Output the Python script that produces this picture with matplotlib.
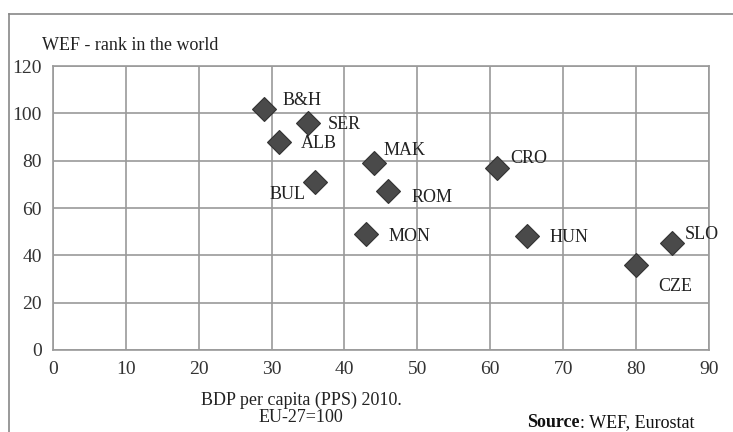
import matplotlib.pyplot as plt
from matplotlib.lines import Line2D

# GDP per capita (PPS, EU-27=100) vs WEF competitiveness rank
countries = ['B&H', 'SER', 'ALB', 'BUL', 'MAK', 'ROM', 'MON', 'CRO', 'HUN', 'CZE', 'SLO']
gdp = [29, 35, 31, 36, 44, 46, 43, 61, 65, 80, 85]
wef_rank = [102, 96, 88, 71, 79, 67, 49, 77, 48, 36, 45]
# label offsets in points (dx, dy); BUL sits to the left of its marker
offsets = [(13, 6), (14, -1), (16, -1.5), (-7, -9), (7, 9), (17, -4),
           (16, -1.5), (9, 7), (16.5, -1), (16, -16), (9, 6.5)]

xticks = list(range(0, 91, 10))
yticks = list(range(0, 121, 20))

plt.rcParams['font.family'] = 'Liberation Serif'
fig = plt.figure(figsize=(7.33, 4.32), dpi=100)
ax = fig.add_axes([0.0723, 0.19, 0.8946, 0.657])

grid_col = '#9a9a9a'
txt_col = '#222222'
ax.plot(gdp, wef_rank, 'D', ms=12, color='#4a4a4a', mec='#333333', mew=0.8, zorder=3)
for name, x, y, (dx, dy) in zip(countries, gdp, wef_rank, offsets):
    ax.annotate(name, (x, y), xytext=(dx, dy), textcoords='offset points',
                fontsize=13, color=txt_col, va='center',
                ha='right' if dx < 0 else 'left')

ax.set_xlim(0, 90)
ax.set_ylim(0, 120)
ax.set_xticks(xticks)
ax.set_yticks(yticks)
ax.grid(True, color=grid_col, lw=1.2)
ax.set_axisbelow(True)
for s in ax.spines.values():
    s.set_color(grid_col)
    s.set_linewidth(1.2)
ax.tick_params(length=0, labelsize=14, colors='#333333', pad=8)

fig.text(42 / 733, 1 - 46 / 432, 'WEF - rank in the world', fontsize=13, va='center', color=txt_col)
fig.text(301 / 733, 1 - 400 / 432, 'BDP per capita (PPS) 2010.', fontsize=13, ha='center', va='center', color=txt_col)
fig.text(301 / 733, 1 - 417 / 432, 'EU-27=100', fontsize=13, ha='center', va='center', color=txt_col)

src = fig.text(527 / 733, 1 - 414 / 432, 'Source', fontsize=13, fontweight='bold', va='top', color='#111111')
fig.canvas.draw()
bb = src.get_window_extent()
fig.text(bb.x1 / fig.bbox.width, 1 - 414 / 432, ': WEF, Eurostat', fontsize=13, va='top', color='#111111')

# chart frame
fig.add_artist(Line2D([9 / 733, 1], [1 - 14 / 432] * 2, color='#888888', lw=1.2))
fig.add_artist(Line2D([9 / 733] * 2, [0, 1 - 14 / 432], color='#888888', lw=1.2))

fig.savefig('out.png', dpi=100)
